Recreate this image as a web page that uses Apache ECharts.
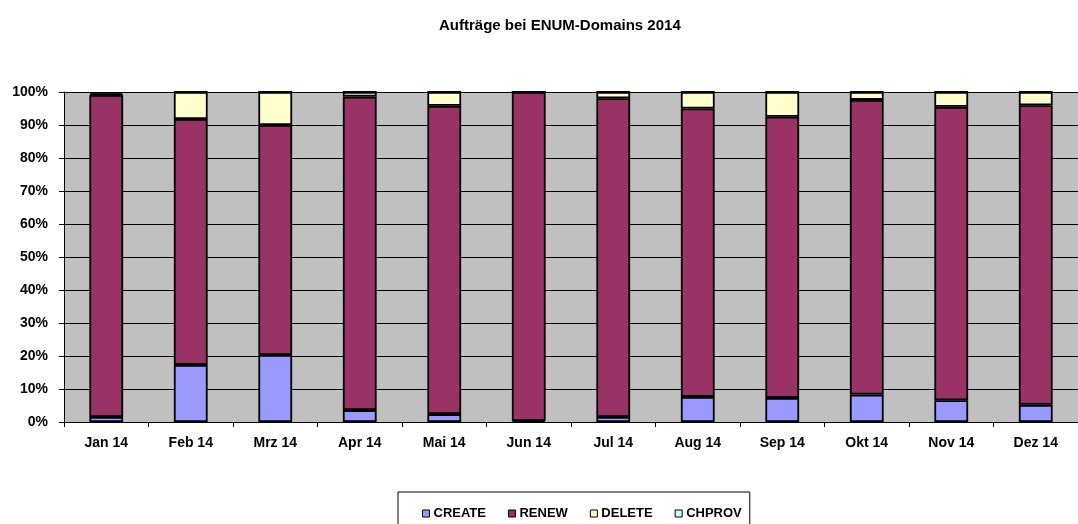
<!DOCTYPE html>
<html>
<head>
<meta charset="utf-8">
<script src="https://cdn.jsdelivr.net/npm/echarts@6/dist/echarts.min.js"></script>
<style>
  html, body { margin: 0; padding: 0; background: #fff; }
  #main { width: 1078px; height: 524px; }
</style>
</head>
<body>
<div id="main"></div>
<script>
// Monate (x-Achse)
const months = ['Jan 14', 'Feb 14', 'Mrz 14', 'Apr 14', 'Mai 14', 'Jun 14',
  'Jul 14', 'Aug 14', 'Sep 14', 'Okt 14', 'Nov 14', 'Dez 14']
// Anteile in Prozent
const create = [1.5, 17.3, 20.3, 3.6, 2.4, 0.3, 1.5, 7.6, 7.3, 8.3, 6.6, 5.2]
const renew = [97.6, 74.5, 69.7, 95.0, 93.4, 99.7, 96.6, 87.4, 85.2, 89.3, 88.9, 90.8]
const del = [0.4, 8.2, 10.0, 1.4, 4.2, 0, 1.9, 5.0, 7.5, 2.4, 4.5, 4.0]
const chprov = [0.5, 0, 0, 0, 0, 0, 0, 0, 0, 0, 0, 0]

const myChart = echarts.init(document.getElementById('main'))

function bar(name, data, color) {
  return {
    name: name,
    type: 'bar',
    stack: 'all',
    barWidth: '40%',
    data: data,
    itemStyle: { color: color, borderColor: '#000', borderWidth: 1.8 }
  }
}

const option = {
  animation: false,
  textStyle: { fontFamily: 'Liberation Sans, Arial, sans-serif' },
  title: {
    text: 'Aufträge bei ENUM-Domains 2014',
    left: 434,
    top: 13,
    textStyle: { fontSize: 15, fontWeight: 'bold', color: '#000' }
  },
  legend: {
    top: 492,
    left: 398,
    itemGap: 22,
    itemWidth: 7,
    itemHeight: 7,
    icon: 'rect',
    padding: [15, 8, 20, 24],
    borderColor: '#000',
    borderWidth: 1,
    textStyle: { fontSize: 13, fontWeight: 'bold', color: '#000', padding: [0, 0, 0, -1] },
    itemStyle: { borderColor: '#000', borderWidth: 1 },
    data: ['CREATE', 'RENEW', 'DELETE', 'CHPROV']
  },
  grid: {
    left: 64,
    top: 92,
    width: 1024,
    height: 330,
    show: true,
    backgroundColor: '#c0c0c0',
    borderWidth: 0
  },
  xAxis: {
    type: 'category',
    data: months,
    axisLine: { lineStyle: { color: '#000', width: 1 } },
    axisTick: { show: true, length: 5, lineStyle: { color: '#000' } },
    axisLabel: { fontSize: 14, fontWeight: 'bold', color: '#000', margin: 14 }
  },
  yAxis: {
    type: 'value',
    min: 0,
    max: 100,
    interval: 10,
    axisLine: { show: true, lineStyle: { color: '#000', width: 1 } },
    axisTick: { show: true, length: 5, lineStyle: { color: '#000' } },
    axisLabel: { formatter: '{value}%', fontSize: 14, fontWeight: 'bold', color: '#000', margin: 16 },
    splitLine: { show: true, lineStyle: { color: '#000', width: 1 } }
  },
  series: [
    bar('CREATE', create, '#9999ff'),
    bar('RENEW', renew, '#993366'),
    bar('DELETE', del, '#ffffcc'),
    bar('CHPROV', chprov, '#ccffff')
  ]
}

myChart.setOption(option)
</script>
</body>
</html>
